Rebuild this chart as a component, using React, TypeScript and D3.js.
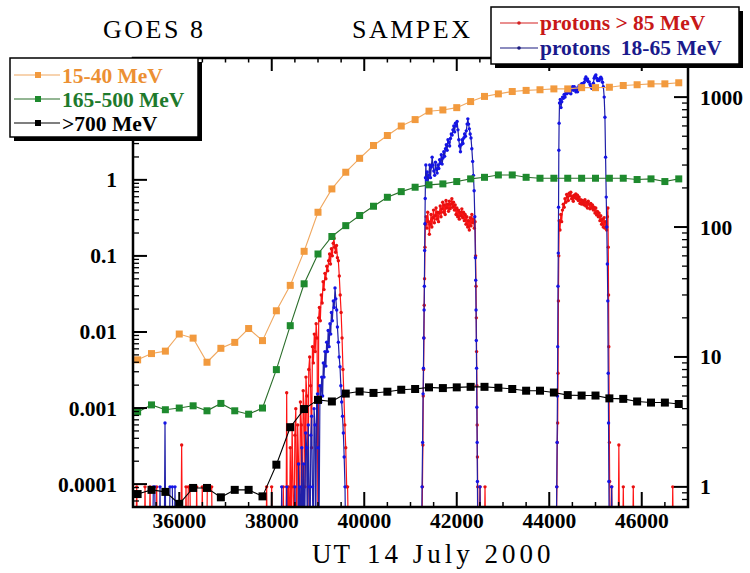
import React from 'react';
import * as d3 from 'd3';

// GOES 8 five-minute proton fluxes (left axis)
const goesTimes = [
  35100, 35400, 35700, 36000, 36300, 36600, 36900, 37200, 37500, 37800,
  38100, 38400, 38700, 39000, 39300, 39600, 39900, 40200, 40500, 40800,
  41100, 41400, 41700, 42000, 42300, 42600, 42900, 43200, 43500, 43800,
  44100, 44400, 44700, 45000, 45300, 45600, 45900, 46200, 46500, 46800,
];
const goes15to40 = [
  0.0043, 0.0052, 0.0056, 0.0094, 0.0083, 0.004, 0.0061, 0.0073, 0.0111, 0.0077,
  0.019, 0.041, 0.115, 0.375, 0.76, 1.26, 1.92, 2.83, 3.83, 5.1,
  6.2, 8.0, 8.3, 8.9, 10.7, 12.5, 13.5, 14.5, 15.0, 15.3,
  15.7, 15.7, 16.3, 16.3, 16.5, 17.4, 17.8, 18.3, 18.3, 18.9,
];
const goes165to500 = [
  0.00089, 0.0011, 0.00095, 0.001, 0.00107, 0.00092, 0.00115, 0.00092, 0.00083, 0.001,
  0.0032, 0.0121, 0.043, 0.106, 0.18, 0.25, 0.34, 0.45, 0.59, 0.7,
  0.8, 0.86, 0.885, 0.95, 1.03, 1.08, 1.16, 1.16, 1.08, 1.05,
  1.05, 1.05, 1.05, 1.05, 1.05, 1.05, 1.01, 1.03, 0.95, 1.03,
];
const goesAbove700 = [
  7.4e-5, 8.4e-5, 7.9e-5, 5.5e-5, 8.9e-5, 8.9e-5, 6.7e-5, 8.4e-5, 8.4e-5, 6.9e-5,
  1.8e-4, 5.6e-4, 9.7e-4, 1.28e-3, 1.22e-3, 1.55e-3, 1.65e-3, 1.58e-3, 1.64e-3, 1.74e-3,
  1.78e-3, 1.87e-3, 1.83e-3, 1.87e-3, 1.9e-3, 1.9e-3, 1.85e-3, 1.78e-3, 1.69e-3, 1.69e-3,
  1.6e-3, 1.48e-3, 1.46e-3, 1.46e-3, 1.34e-3, 1.32e-3, 1.22e-3, 1.18e-3, 1.18e-3, 1.13e-3,
];

// SAMPEX count rates [UT seconds, counts] (right axis); 0 = no counts
const sampexAbove85: [number, number][] = [
  [35060, 0], [35080, 1], [35100, 0], [35245, 0], [35260, 1], [35275, 0],
  [35352, 0], [35368, 1], [35384, 0], [35496, 0], [35512, 1], [35528, 0],
  [36036, 0], [36052, 2.1], [36068, 0], [36130, 0], [36146, 1], [36162, 0],
  [36180, 0], [36196, 1], [36232, 1], [36248, 0], [36362, 0], [36377, 1], [36392, 0],
  [36482, 0], [36498, 1], [36514, 0], [36592, 0], [36607, 1], [36665, 1], [36701, 1], [36716, 0],
  [37875, 0], [37890, 1], [37905, 0], [37983, 0], [37998, 1], [38013, 0],
  [38235, 0], [38250, 1], [38265, 0], [38308, 0], [38323, 5.3], [38338, 0],
  [38360, 1], [38380, 0], [38400, 2], [38420, 0], [38440, 3], [38460, 1], [38480, 0],
  [38500, 2.5], [38520, 4], [38540, 0], [38560, 3], [38580, 1.5], [38600, 0],
  [38620, 4.5], [38640, 3], [38660, 0], [38680, 5.5], [38700, 4], [38720, 1],
  [38740, 7], [38760, 5], [38780, 0], [38800, 8], [38820, 10], [38840, 6], [38860, 2],
  [38880, 12], [38900, 9], [38920, 15], [38940, 11], [38960, 18], [38980, 14], [39000, 0],
  [39015, 20], [39030, 24], [39050, 19], [39070, 30], [39090, 26], [39110, 38], [39130, 33],
  [39150, 44], [39170, 40], [39190, 50], [39210, 46], [39230, 55], [39250, 62], [39270, 52],
  [39290, 68], [39310, 60], [39330, 75], [39345, 82], [39360, 70], [39380, 64], [39400, 72],
  [39420, 58], [39440, 55], [39460, 42], [39480, 30], [39500, 22], [39520, 14], [39540, 8],
  [39560, 5], [39580, 3], [39600, 2], [39620, 1], [39640, 1], [39660, 0],
  [41245, 0], [41258, 1], [41268, 2.1], [41276, 5], [41283, 8], [41290, 14], [41297, 25],
  [41304, 40], [41312, 70], [41322, 105], [41338, 120], [41355, 98], [41372, 130], [41390, 110],
  [41408, 88], [41426, 105], [41444, 125], [41462, 100], [41480, 118], [41498, 135], [41516, 108],
  [41534, 122], [41552, 140], [41570, 115], [41588, 130], [41606, 110], [41624, 128], [41642, 145],
  [41660, 120], [41678, 138], [41696, 155], [41714, 130], [41732, 148], [41750, 125], [41768, 160],
  [41786, 140], [41804, 150], [41822, 132], [41840, 158], [41858, 138], [41876, 150], [41894, 165],
  [41912, 142], [41930, 155], [41948, 135], [41966, 148], [41984, 125], [42002, 140], [42020, 120],
  [42038, 135], [42056, 115], [42074, 130], [42092, 122], [42110, 138], [42128, 118], [42146, 130],
  [42164, 112], [42182, 125], [42200, 105], [42218, 120], [42236, 100], [42254, 112], [42272, 95],
  [42290, 118], [42308, 102], [42326, 125], [42344, 108], [42362, 115], [42380, 98], [42396, 110],
  [42408, 60], [42416, 35], [42423, 20], [42429, 11], [42435, 6], [42441, 3], [42447, 1.7],
  [42453, 1], [42462, 0], [42488, 0], [42503, 1], [42518, 0], [42596, 0], [42611, 1], [42626, 0],
  [44150, 0], [44165, 1], [44174, 2.2], [44182, 3.1], [44190, 7.5], [44198, 27], [44206, 60],
  [44215, 112], [44232, 95], [44250, 125], [44268, 110], [44286, 135], [44304, 150], [44322, 142],
  [44340, 165], [44358, 155], [44376, 178], [44394, 170], [44412, 160], [44430, 182], [44448, 175],
  [44466, 185], [44484, 165], [44502, 172], [44520, 158], [44538, 176], [44556, 168], [44574, 180],
  [44592, 165], [44610, 176], [44628, 160], [44646, 170], [44664, 152], [44682, 162], [44700, 150],
  [44718, 160], [44736, 155], [44754, 148], [44772, 162], [44790, 145], [44808, 155], [44826, 140],
  [44844, 158], [44862, 150], [44880, 138], [44898, 152], [44916, 140], [44934, 148], [44952, 135],
  [44970, 142], [44988, 128], [45006, 140], [45024, 124], [45042, 132], [45060, 120], [45078, 128],
  [45096, 112], [45114, 122], [45132, 105], [45150, 115], [45168, 100], [45186, 118], [45204, 98],
  [45222, 110], [45240, 95], [45256, 120], [45268, 140], [45276, 70], [45282, 30], [45288, 12],
  [45294, 5], [45300, 2.2], [45306, 1.1], [45316, 0], [45335, 0], [45350, 1], [45365, 0],
  [45490, 0], [45505, 2.1], [45520, 0], [45586, 0], [45601, 1], [45616, 0],
  [45802, 0], [45817, 1], [45832, 0], [46655, 0], [46670, 1], [46685, 0],
];

const sampex18to65: [number, number][] = [
  [35422, 0], [35440, 1], [35470, 1], [35488, 0], [35568, 0], [35584, 1], [35600, 0],
  [35676, 0], [35692, 3.1], [35708, 0], [35784, 0], [35800, 1], [35850, 1], [35866, 0],
  [35892, 0], [35908, 1], [35924, 0], [38200, 0], [38215, 1], [38230, 0],
  [38308, 0], [38323, 1], [38338, 0],
  [38488, 0], [38503, 1], [38518, 0], [38565, 0], [38580, 1.5], [38595, 0], [38611, 1], [38628, 0],
  [38650, 2], [38665, 0], [38690, 1.5], [38708, 0], [38735, 2.6], [38755, 2], [38770, 0],
  [38790, 3], [38810, 1], [38828, 0], [38845, 2.5], [38863, 3.5], [38880, 1], [38898, 0],
  [38915, 4], [38935, 3], [38950, 0], [38971, 4.6], [38990, 5.2], [39005, 2], [39020, 0],
  [39043, 6], [39060, 4.5], [39080, 7], [39100, 5], [39115, 9], [39130, 7], [39150, 11],
  [39170, 8.5], [39187, 13], [39205, 11], [39220, 16], [39240, 12], [39259, 18], [39275, 15],
  [39290, 22], [39310, 19], [39331, 27], [39350, 24], [39368, 34], [39385, 28], [39404, 23],
  [39420, 17], [39440, 13], [39458, 10], [39476, 8.4], [39494, 6], [39512, 4.5], [39530, 3.5],
  [39548, 2.6], [39566, 1.7], [39584, 1], [39600, 0],
  [41238, 0], [41250, 1], [41262, 2.2], [41272, 5.2], [41280, 8.2], [41287, 14], [41294, 23],
  [41300, 35], [41306, 66], [41312, 106], [41318, 166], [41324, 240], [41332, 300], [41345, 230],
  [41360, 265], [41378, 215], [41396, 250], [41414, 300], [41432, 240], [41450, 290], [41468, 345],
  [41486, 300], [41504, 270], [41522, 250], [41540, 315], [41558, 280], [41576, 260], [41594, 300],
  [41612, 282], [41630, 330], [41648, 310], [41666, 360], [41684, 305], [41702, 340], [41720, 380],
  [41738, 350], [41756, 400], [41774, 430], [41792, 390], [41810, 470], [41828, 450], [41846, 420],
  [41864, 480], [41882, 520], [41900, 510], [41918, 560], [41936, 600], [41954, 540], [41972, 630],
  [41990, 600], [42008, 650], [42026, 560], [42044, 470], [42062, 420], [42080, 380], [42098, 430],
  [42116, 470], [42134, 440], [42152, 485], [42170, 520], [42188, 500], [42206, 550], [42224, 620],
  [42240, 680], [42256, 620], [42272, 570], [42290, 520], [42308, 485], [42326, 400], [42344, 320],
  [42360, 250], [42376, 190], [42390, 120], [42402, 58], [42410, 39], [42417, 23], [42423, 13.4],
  [42429, 8.2], [42435, 4.1], [42441, 2.2], [42447, 1.1], [42456, 0],
  [42490, 0], [42503, 1], [42516, 0],
  [44150, 0], [44162, 1], [44170, 2.2], [44177, 5], [44183, 12], [44189, 35], [44195, 63],
  [44201, 142], [44207, 390], [44213, 630], [44222, 900], [44238, 960], [44254, 830], [44270, 920],
  [44288, 1000], [44306, 980], [44324, 1050], [44342, 1000], [44360, 1100], [44378, 1060], [44396, 1100],
  [44414, 1150], [44432, 1080], [44450, 1120], [44468, 1060], [44486, 1150], [44504, 1200], [44522, 1130],
  [44540, 1200], [44558, 1150], [44576, 1100], [44594, 1170], [44612, 1100], [44630, 1180], [44648, 1230],
  [44666, 1160], [44684, 1210], [44702, 1270], [44720, 1270], [44738, 1220], [44756, 1300], [44774, 1380],
  [44792, 1430], [44810, 1350], [44828, 1380], [44846, 1310], [44864, 1310], [44882, 1250], [44900, 1200],
  [44918, 1170], [44936, 1170], [44954, 1280], [44972, 1400], [44990, 1450], [45008, 1480], [45026, 1400],
  [45044, 1340], [45062, 1360], [45080, 1340], [45098, 1400], [45116, 1420], [45134, 1380], [45152, 1300],
  [45170, 1200], [45188, 1000], [45204, 700], [45218, 345], [45232, 170], [45244, 100], [45256, 52],
  [45266, 27], [45275, 7.5], [45282, 3.1], [45289, 1.1], [45298, 0],
  [45336, 0], [45350, 1], [45364, 0],
];

const xTickValues = [36000, 38000, 40000, 42000, 44000, 46000];
const leftTickValues = [1, 0.1, 0.01, 0.001, 0.0001];
const leftTickText = ['1', '0.1', '0.01', '0.001', '0.0001'];
const rightTickValues = [1000, 100, 10, 1];
const rightTickText = ['1000', '100', '10', '1'];

const P = { left: 133, right: 688, top: 58, bottom: 507 };
const SERIF = '"Liberation Serif", "Times New Roman", serif';

const ORANGE = '#f29a3e';
const ORANGE_LINE = '#f0a860';
const GREEN = '#1e8a2e';
const GREEN_LINE = '#2b6e2b';
const RED = '#ff1414';
const BLUE = '#1414e6';
const BLUE_LINE = '#2020a8';

function logTicks(domain: [number, number]) {
  const out: { v: number; major: boolean }[] = [];
  const lo = Math.floor(Math.log10(domain[0]));
  const hi = Math.ceil(Math.log10(domain[1]));
  for (let d = lo; d <= hi; d++) {
    for (let m = 1; m <= 9; m++) {
      const v = m * Math.pow(10, d);
      if (v > domain[0] * 1.001 && v < domain[1] * 0.999) out.push({ v, major: m === 1 });
    }
  }
  return out;
}

export default function App() {
  const x = d3.scaleLinear().domain([35000, 47000]).range([P.left, P.right]);
  const yL = d3.scaleLog().domain([5e-5, 40]).range([P.bottom, P.top]);
  const yR = d3.scaleLog().domain([0.7, 2000]).range([P.bottom, P.top]);
  const zeroY = P.bottom + 40;

  const goesLine = d3
    .line<number>()
    .x((_, i) => x(goesTimes[i]))
    .y((v) => yL(v));
  const sampLine = d3
    .line<[number, number]>()
    .x((d) => x(d[0]))
    .y((d) => (d[1] > 0 ? yR(d[1]) : zeroY));

  const xMinor = d3.range(35500, 47000, 500);
  const leftTicks = logTicks([5e-5, 40]);
  const rightTicks = logTicks([0.7, 2000]);

  const goesSeries = [
    { vals: goes15to40, fill: ORANGE, line: ORANGE_LINE, size: 7 },
    { vals: goes165to500, fill: GREEN, line: GREEN_LINE, size: 7 },
    { vals: goesAbove700, fill: '#000', line: '#000', size: 8 },
  ];

  const sampSeries = [
    { data: sampexAbove85, line: RED, dot: '#e81010' },
    { data: sampex18to65, line: BLUE_LINE, dot: BLUE },
  ];

  return (
    <svg
      width={750}
      height={573}
      style={{ position: 'absolute', left: 0, top: 0, background: '#fff' }}
      fontFamily={SERIF}
    >
      <defs>
        <clipPath id="plotClip">
          <rect x={P.left} y={P.top} width={P.right - P.left} height={P.bottom - P.top} />
        </clipPath>
      </defs>

      {/* titles */}
      <text x={103} y={37.5} fontSize={26} letterSpacing={2.5}>GOES 8</text>
      <text x={352} y={37.5} fontSize={26} letterSpacing={2.5}>SAMPEX</text>

      {/* SAMPEX counts */}
      <g clipPath="url(#plotClip)">
        {sampSeries.map((s, k) => (
          <g key={k}>
            <path d={sampLine(s.data) || ''} fill="none" stroke={s.line} strokeWidth={1.2} />
            {s.data
              .filter((d) => d[1] > 0)
              .map((d, i) => (
                <circle key={i} cx={x(d[0])} cy={yR(d[1])} r={1.7} fill={s.dot} />
              ))}
          </g>
        ))}
      </g>

      {/* GOES fluxes */}
      {goesSeries.map((s, k) => (
        <g key={k}>
          <path d={goesLine(s.vals) || ''} fill="none" stroke={s.line} strokeWidth={1.1} />
          {s.vals.map((v, i) => (
            <rect
              key={i}
              x={x(goesTimes[i]) - s.size / 2}
              y={yL(v) - s.size / 2}
              width={s.size}
              height={s.size}
              fill={s.fill}
            />
          ))}
        </g>
      ))}

      {/* frame */}
      <rect
        x={P.left}
        y={P.top}
        width={P.right - P.left}
        height={P.bottom - P.top}
        fill="none"
        stroke="#000"
        strokeWidth={2.5}
      />

      {/* x ticks, bottom and top */}
      {xMinor.map((t) => {
        const major = t % 2000 === 0;
        const xx = x(t);
        const lb = major ? 15 : 5;
        const lt = major ? 13 : 4.5;
        return (
          <g key={t} stroke="#000" strokeWidth={major ? 2 : 1.5}>
            <line x1={xx} x2={xx} y1={P.bottom} y2={P.bottom - lb} />
            <line x1={xx} x2={xx} y1={P.top} y2={P.top + lt} />
          </g>
        );
      })}
      {xTickValues.map((t) => (
        <text key={t} x={x(t)} y={528} fontSize={21.5} fontWeight="bold" textAnchor="middle">
          {t}
        </text>
      ))}

      {/* left log axis */}
      {leftTicks.map((tk, i) => (
        <line
          key={i}
          x1={P.left}
          x2={P.left + (tk.major ? 14 : 6)}
          y1={yL(tk.v)}
          y2={yL(tk.v)}
          stroke="#000"
          strokeWidth={tk.major ? 2 : 1.3}
        />
      ))}
      {leftTickValues.map((v, i) => (
        <text key={i} x={117} y={yL(v) + 7.5} fontSize={21.5} fontWeight="bold" textAnchor="end">
          {leftTickText[i]}
        </text>
      ))}

      {/* right log axis */}
      {rightTicks.map((tk, i) => (
        <line
          key={i}
          x1={P.right}
          x2={P.right - (tk.major ? 14 : 6)}
          y1={yR(tk.v)}
          y2={yR(tk.v)}
          stroke="#000"
          strokeWidth={tk.major ? 2 : 1.3}
        />
      ))}
      {rightTickValues.map((v, i) => (
        <text key={i} x={700} y={yR(v) + 7.5} fontSize={21.5} fontWeight="bold" textAnchor="start">
          {rightTickText[i]}
        </text>
      ))}

      {/* x axis title */}
      <text x={312} y={563} fontSize={27} letterSpacing={2}>UT</text>
      <text x={367} y={563} fontSize={27} letterSpacing={4}>14 July 2000</text>

      {/* GOES legend */}
      <rect x={14} y={62} width={188} height={79} fill="#000" />
      <rect x={10} y={58} width={188} height={79} fill="#fff" stroke="#000" strokeWidth={1.5} />
      {[
        { y: 75, c: ORANGE, lc: ORANGE_LINE, tc: '#ec9033', label: '15-40 MeV' },
        { y: 99, c: GREEN, lc: GREEN_LINE, tc: '#1e7a2c', label: '165-500 MeV' },
        { y: 123, c: '#000', lc: '#000', tc: '#000', label: '>700 MeV' },
      ].map((r, i) => (
        <g key={i}>
          <line x1={14} x2={60} y1={r.y} y2={r.y} stroke={r.lc} strokeWidth={1.2} />
          <rect x={35} y={r.y - 3} width={6} height={6} fill={r.c} />
          <text x={62} y={r.y + 7.5} fontSize={21.5} fontWeight="bold" fill={r.tc}>
            {r.label}
          </text>
        </g>
      ))}

      {/* SAMPEX legend */}
      <rect x={495} y={11} width={248} height={57} fill="#000" />
      <rect x={491} y={7} width={248} height={57} fill="#fff" stroke="#000" strokeWidth={1.5} />
      {[
        { y: 23, c: '#d42020', tc: '#c81818', label: 'protons > 85 MeV' },
        { y: 48, c: '#1a1a80', tc: '#1a1a8c', label: 'protons  18-65 MeV' },
      ].map((r, i) => (
        <g key={i}>
          <line x1={500} x2={538} y1={r.y} y2={r.y} stroke={r.c} strokeWidth={1.2} />
          <circle cx={519} cy={r.y} r={1.8} fill={r.c} />
          <text
            x={540}
            y={r.y + 7}
            fontSize={21.5}
            fontWeight="bold"
            fill={r.tc}
            style={{ whiteSpace: 'pre' }}
          >
            {r.label}
          </text>
        </g>
      ))}
    </svg>
  );
}
